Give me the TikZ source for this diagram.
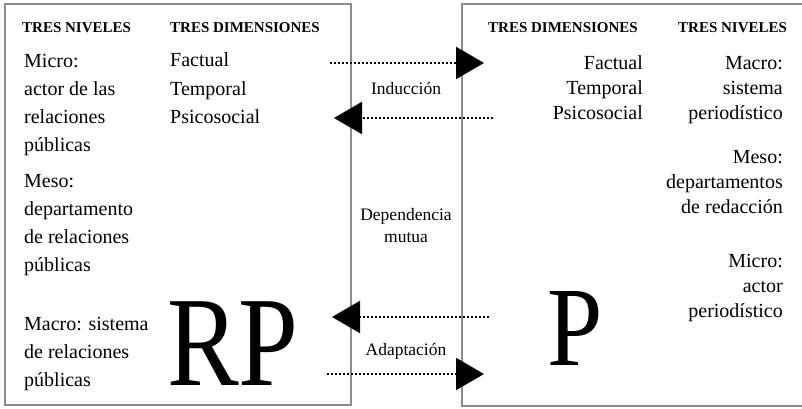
\documentclass[tikz,border=0pt]{standalone}
\usepackage{fontspec}
\usepackage{graphicx}
\setmainfont{Liberation Serif}
\usetikzlibrary{arrows.meta}
\definecolor{boxgray}{RGB}{140,140,140}
\tikzset{
  panel/.style={draw=boxgray, line width=2pt},
  hdr/.style={font=\fontsize{15}{18}\selectfont\bfseries, inner sep=0pt, anchor=base west},
  bodyL/.style={font=\fontsize{20}{28}\selectfont, align=left, inner sep=0pt, anchor=base west},
  bodyR/.style={font=\fontsize{20}{25}\selectfont, align=right, inner sep=0pt, anchor=base east},
  midlab/.style={font=\fontsize{17.5}{22}\selectfont, align=center, inner sep=0pt},
  dotarrow/.style={line width=2pt, dash pattern=on 2pt off 2pt, -{Triangle[length=28pt,width=32pt]}},
}
\begin{document}
\begin{tikzpicture}[x=1pt,y=-1pt]
\useasboundingbox (0,0) rectangle (802,409);
\clip (0,0) rectangle (802,409);
% panels
\draw[panel] (5,4) rectangle (351,405);
\draw[panel] (462,4) rectangle (815,406);
% left panel (multi-line nodes anchored at the baseline of their last line)
\node[hdr] (lh1) at (22,33) {TRES NIVELES};
\node[hdr] (lh2) at (170,33) {TRES DIMENSIONES};
\node[bodyL] (lmicro) at (24,151) {Micro:\\actor de las\\relaciones\\públicas};
\node[bodyL] (lmeso) at (24,271) {Meso:\\departamento\\de relaciones\\públicas};
\node[bodyL] (lmacro) at (24,386) {Macro: sistema\\de relaciones\\públicas};
\node[bodyL] (ldim) at (170,123) {Factual\\Temporal\\Psicosocial};
\node[inner sep=0pt, anchor=base west, font=\fontsize{128}{128}\selectfont] (rp) at (167,385) {\scalebox{0.84}[1]{RP}};
% right panel
\node[hdr] (rh1) at (488,33) {TRES DIMENSIONES};
\node[hdr] (rh2) at (678,33) {TRES NIVELES};
\node[bodyR] (rdim) at (643,120) {Factual\\Temporal\\Psicosocial};
\node[bodyR] (rmacro) at (783,120) {Macro:\\sistema\\periodístico};
\node[bodyR] (rmeso) at (783,213) {Meso:\\departamentos\\de redacción};
\node[bodyR] (rmicro) at (783,317) {Micro:\\actor\\periodístico};
\node[inner sep=0pt, anchor=base west, font=\fontsize{113}{113}\selectfont] (p) at (547,365) {\scalebox{0.88}[1]{P}};
% middle labels
\node[midlab] (ind) at (406,89) {Inducción};
\node[midlab] (dep) at (406,226) {Dependencia\\mutua};
\node[midlab] (ada) at (406,351) {Adaptación};
% arrows
\coordinate (a1s) at (330,63);  \coordinate (a1e) at (484,63);
\coordinate (a2s) at (493,118); \coordinate (a2e) at (334,118);
\coordinate (a3s) at (489,317); \coordinate (a3e) at (332,317);
\coordinate (a4s) at (327,374); \coordinate (a4e) at (484,374);
\draw[dotarrow] (a1s) -- (a1e);
\draw[dotarrow] (a2s) -- (a2e);
\draw[dotarrow] (a3s) -- (a3e);
\draw[dotarrow] (a4s) -- (a4e);
\end{tikzpicture}
\end{document}
